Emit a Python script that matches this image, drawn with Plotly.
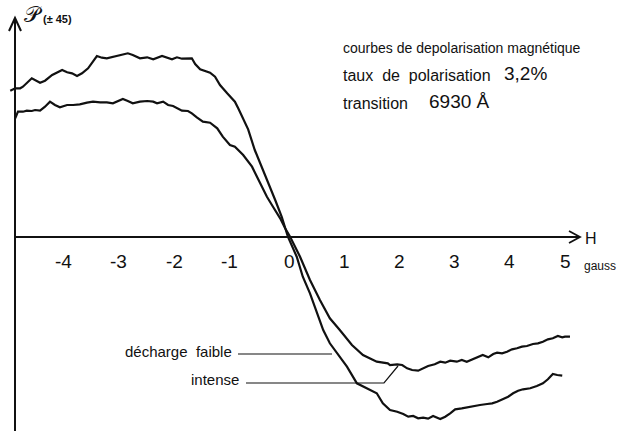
import plotly.graph_objects as go

# ---------------- data (H in gauss, P in arbitrary units) ----------------
H_faible = [-5.05, -4.96, -4.87, -4.82, -4.66, -4.51, -4.42, -4.29, -4.11, -4.02, -3.93, -3.84,
            -3.75, -3.64, -3.48, -3.39, -3.30, -3.19, -3.06, -2.92, -2.83, -2.70, -2.57, -2.46,
            -2.30, -2.21, -2.12, -2.03, -1.94, -1.76, -1.70, -1.61, -1.52, -1.43, -1.34, -1.25,
            -1.12, -0.98, -0.92, -0.83, -0.74, -0.62, -0.49, -0.38, -0.25, -0.13, -0.02, 0.14,
            0.25, 0.38, 0.51, 0.62, 0.74, 0.89, 1.05, 1.23, 1.41, 1.59, 1.70, 1.83, 1.96, 2.07,
            2.16, 2.25, 2.34, 2.43, 2.52, 2.61, 2.74, 2.83, 2.92, 3.01, 3.13, 3.22, 3.33, 3.46,
            3.59, 3.68, 3.77, 3.88, 3.97, 4.06, 4.15, 4.24, 4.37, 4.49, 4.60, 4.69, 4.78, 4.86,
            4.95]
P_faible = [14.63, 14.87, 14.87, 15.03, 15.87, 15.43, 15.63, 16.20, 16.70, 16.47, 16.37, 16.10,
            16.37, 16.87, 18.10, 17.93, 17.87, 18.03, 18.20, 18.37, 18.20, 17.87, 17.97, 17.77,
            18.10, 17.97, 17.77, 17.97, 17.83, 17.87, 17.30, 16.77, 16.60, 16.43, 16.03, 15.20,
            14.37, 13.53, 12.87, 11.87, 10.77, 8.70, 7.00, 5.40, 3.70, 2.00, 0.03, -1.97,
            -3.97, -5.63, -7.63, -9.30, -10.63, -11.80, -12.97, -14.63, -15.13, -15.63, -16.63, -17.30, -17.47, -17.70,
            -17.97, -17.90, -18.13, -18.07, -18.17, -17.90, -18.20, -17.97, -17.63, -17.23, -17.13, -17.03, -16.90, -16.80,
            -16.70, -16.63, -16.47, -16.23, -15.97, -15.63, -15.37, -15.23, -15.13, -14.90, -14.63, -14.23, -13.70, -13.80,
            -13.87]

H_intense = [-4.96, -4.91, -4.82, -4.75, -4.66, -4.60, -4.51, -4.42, -4.33, -4.24, -4.15, -4.02,
             -3.91, -3.79, -3.66, -3.55, -3.42, -3.30, -3.19, -3.10, -3.01, -2.92, -2.83, -2.70,
             -2.57, -2.46, -2.39, -2.28, -2.19, -2.10, -2.01, -1.94, -1.83, -1.76, -1.67, -1.56,
             -1.43, -1.30, -1.20, -1.07, -0.98, -0.83, -0.67, -0.53, -0.40, -0.29, -0.16, -0.07,
             0.02, 0.20, 0.38, 0.56, 0.74, 0.92, 1.14, 1.34, 1.59, 1.79, 1.83, 1.96, 2.05, 2.14,
             2.23, 2.34, 2.43, 2.52, 2.64, 2.74, 2.83, 2.92, 3.04, 3.13, 3.22, 3.32, 3.41, 3.51,
             3.61, 3.70, 3.77, 3.86, 3.95, 4.04, 4.13, 4.22, 4.31, 4.42, 4.51, 4.60, 4.69, 4.78,
             4.87, 4.95, 5.00, 5.09]
P_intense = [11.87, 12.53, 12.53, 12.63, 12.60, 12.70, 12.63, 13.03, 13.53, 13.20, 12.97, 13.20,
             13.20, 13.27, 13.43, 13.53, 13.47, 13.47, 13.37, 13.60, 13.80, 13.60, 13.37, 13.53,
             13.60, 13.53, 13.37, 13.53, 13.20, 13.10, 12.87, 12.63, 12.60, 12.37, 11.97, 11.53,
             11.43, 10.87, 10.03, 9.20, 9.03, 8.20, 7.03, 5.53, 4.03, 3.03, 1.87, 0.87,
             0.03, -1.97, -4.30, -6.30, -8.13, -9.30, -10.80, -11.80, -12.47, -12.63, -12.80, -12.73, -12.80, -13.13,
             -13.30, -13.37, -13.13, -12.90, -12.73, -12.47, -12.57, -12.37, -12.47, -12.30, -12.47, -12.23, -11.97, -11.80,
             -12.03, -11.70, -11.57, -11.63, -11.47, -11.23, -11.13, -10.97, -10.90, -10.70, -10.63, -10.47, -10.23, -10.13,
             -9.90, -10.03, -9.97, -9.97]

tick_vals = [-4, -3, -2, -1, 0, 1, 2, 3, 4, 5]
tick_text = ["-4", "-3", "-2", "-1", "0", "1", "2", "3", "4", "5"]

# ---------------- layout helpers (pixel -> data) ----------------
W, HGT = 620, 431
X0, XS = 289.0, 55.2   # pixel of H=0, pixels per gauss
Y0, YS = 237.0, 10.0   # pixel of P=0, pixels per unit


def px(x):
    return (x - X0) / XS


def py(y):
    return (Y0 - y) / YS


FONT = "Liberation Sans, Arial, sans-serif"
INK = "#111111"

fig = go.Figure()
fig.add_trace(go.Scatter(x=H_faible, y=P_faible, mode="lines", name="décharge faible",
                         line=dict(color=INK, width=2.2), hoverinfo="skip"))
fig.add_trace(go.Scatter(x=H_intense, y=P_intense, mode="lines", name="intense",
                         line=dict(color=INK, width=2.2), hoverinfo="skip"))

shapes = []
# axes
shapes.append(dict(type="line", x0=px(15), x1=px(15), y0=py(431), y1=py(19),
                   line=dict(color=INK, width=2)))
shapes.append(dict(type="line", x0=px(15), x1=px(579), y0=0, y1=0,
                   line=dict(color=INK, width=1.8)))
# arrowheads (open)
shapes.append(dict(type="path", path=f"M {px(9)},{py(31)} L {px(15)},{py(18)} L {px(21)},{py(31)}",
                   line=dict(color=INK, width=2)))
shapes.append(dict(type="path", path=f"M {px(569)},{py(231)} L {px(580)},{py(237)} L {px(569)},{py(243)}",
                   line=dict(color=INK, width=1.8)))
# leader lines
shapes.append(dict(type="line", x0=px(238), x1=px(332), y0=py(354), y1=py(354),
                   line=dict(color=INK, width=1.2)))
shapes.append(dict(type="path", path=f"M {px(246)},{py(383)} L {px(384)},{py(383)} L {px(398)},{py(366)}",
                   line=dict(color=INK, width=1.2)))

ann = []
for v, t in zip(tick_vals, tick_text):
    ann.append(dict(x=v - (0.08 if v < 0 else 0), y=py(261), text=t, showarrow=False,
                    font=dict(family=FONT, size=19, color=INK), xanchor="center", yanchor="middle"))


def txt(x, y, t, size, anchor="left"):
    ann.append(dict(x=px(x), y=py(y), text=t, showarrow=False, xanchor=anchor, yanchor="middle",
                    font=dict(family=FONT, size=size, color=INK)))


txt(591, 238, "H", 16, "center")
txt(582, 266, "gauss", 12)
txt(341, 48, "courbes de depolarisation magnétique", 14)
txt(341, 75, "taux  de  polarisation", 16)
txt(502, 73, "3,2%", 19)
txt(341, 103, "transition", 16)
txt(427, 101, "6930 Å", 19)
txt(123, 351, "décharge  faible", 15)
txt(189, 379, "intense", 15)
txt(22, 14, "𝒫", 22)
txt(41, 19, "<b>(± 45)</b>", 11)

fig.update_layout(
    width=W, height=HGT, autosize=False,
    margin=dict(l=0, r=0, t=0, b=0, pad=0),
    paper_bgcolor="white", plot_bgcolor="white",
    showlegend=False,
    xaxis=dict(range=[px(0), px(W)], visible=False, fixedrange=True),
    yaxis=dict(range=[py(HGT), py(0)], visible=False, fixedrange=True),
    shapes=shapes, annotations=ann,
)

fig.write_html("out.html", config={"displayModeBar": False},
               post_script="document.body.style.margin='0';document.body.style.overflow='hidden';")
